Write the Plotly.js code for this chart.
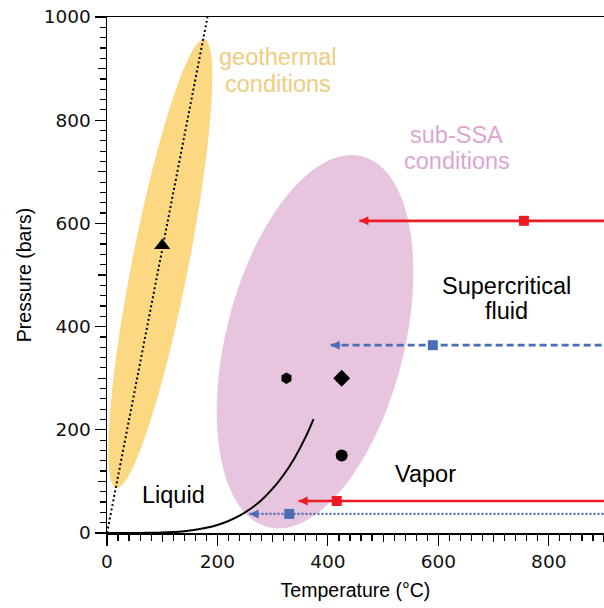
<!DOCTYPE html>
<html>
<head>
<meta charset="utf-8">
<script src="https://cdn.plot.ly/plotly-3.0.1.min.js"></script>
<style>html,body{margin:0;padding:0;background:#fff;}#chart{width:604px;height:608px;}</style>
</head>
<body>
<div id="chart"></div>
<script>
// ---- Data ----
// Water liquid-vapor saturation curve (T in °C, P in bars), ending at the critical point
const satT = [0, 20, 40, 60, 80, 100, 120, 140, 160, 180, 200, 220, 240, 260, 280, 300, 320, 340, 360, 374];
const satP = [0.006, 0.023, 0.074, 0.199, 0.474, 1.014, 1.985, 3.614, 6.18, 10.03, 15.55, 23.2, 33.47, 46.92, 64.17, 85.88, 112.9, 146.0, 186.7, 220.6];

// Geothermal gradient (dotted line)
const geoLineT = [0, 182];
const geoLineP = [0, 1000];

// Black symbols
const triangleT = [100];  const triangleP = [557];
const hexagonT  = [325];  const hexagonP  = [300];
const diamondT  = [425];  const diamondP  = [300];
const circleT   = [425];  const circleP   = [150];

// Horizontal arrows: pressure level, arrow tip, square marker, start (right edge)
const arrowP      = [605, 364, 62, 37];
const arrowTipT   = [457, 405, 347, 258];
const arrowSquareT= [755, 590, 416, 330];
const arrowStartT = [900, 900, 900, 900];

// Region ellipses (center, half x-extent, half y-extent, y-offset of rightmost point)
const geoEllipse = {cx: 96.5, cy: 522, hx: 94.2, hy: 434.7, ry: 362.4};
const ssaEllipse = {cx: 376.7, cy: 370.7, hx: 178, hy: 361.8, ry: 135};

// Axis ranges
const xRange = [0, 900];
const yRange = [0, 1000];

// ---- Styles ----
const RED = '#ED1C24';
const BLUE = '#4B6DB8';
const arrowStyles = [
  {color: RED,  dash: 'solid',   width: 2.7},
  {color: BLUE, dash: '7px,4px', width: 2.8},
  {color: RED,  dash: 'solid',   width: 2.7},
  {color: BLUE, dash: '2px,2px', width: 2.2}
];
const TXT = 'Liberation Sans, Arial, sans-serif';
const NUM = 'DejaVu Sans, sans-serif';

function ellipsePath(e) {
  const k = Math.sqrt(e.hy * e.hy - e.ry * e.ry);
  let d = '';
  const n = 180;
  for (let i = 0; i <= n; i++) {
    const t = 2 * Math.PI * i / n;
    const x = e.cx + e.hx * Math.cos(t);
    const y = e.cy + e.ry * Math.cos(t) + k * Math.sin(t);
    d += (i === 0 ? 'M' : 'L') + x.toFixed(3) + ',' + y.toFixed(3);
  }
  return d + 'Z';
}

const traces = [];

// saturation curve
traces.push({x: satT, y: satP, mode: 'lines', line: {color: '#000', width: 2, shape: 'spline'}, hoverinfo: 'skip'});
// geothermal line
traces.push({x: geoLineT, y: geoLineP, mode: 'lines', line: {color: '#000', width: 2, dash: '2px,2.6px'}, hoverinfo: 'skip'});

// arrows (lines + squares)
for (let i = 0; i < arrowP.length; i++) {
  const s = arrowStyles[i];
  traces.push({
    x: [arrowTipT[i], arrowStartT[i]],
    y: [arrowP[i], arrowP[i]],
    mode: 'lines',
    line: {color: s.color, width: s.width, dash: s.dash},
    hoverinfo: 'skip', cliponaxis: false
  });
  traces.push({
    x: [arrowSquareT[i]], y: [arrowP[i]],
    mode: 'markers',
    marker: {symbol: 'square', color: s.color, size: 10, opacity: 1, line: {width: 0}},
    hoverinfo: 'skip'
  });
}

// black symbols
traces.push({x: triangleT, y: triangleP, mode: 'markers', marker: {symbol: 'triangle-up', size: 14, color: '#000'}, hoverinfo: 'skip'});
traces.push({x: hexagonT, y: hexagonP, mode: 'markers', marker: {symbol: 'hexagon', size: 11.5, color: '#000'}, hoverinfo: 'skip'});
traces.push({x: diamondT, y: diamondP, mode: 'markers', marker: {symbol: 'diamond', size: 13, color: '#000'}, hoverinfo: 'skip'});
traces.push({x: circleT, y: circleP, mode: 'markers', marker: {symbol: 'circle', size: 12, color: '#000'}, hoverinfo: 'skip'});

// dummy trace for the overlay (mid-length tick) axes
traces.push({x: [xRange[0]], y: [yRange[0]], xaxis: 'x2', yaxis: 'y2', mode: 'markers', marker: {opacity: 0}, hoverinfo: 'skip'});

const annotations = [];
// arrow heads
for (let i = 0; i < arrowP.length; i++) {
  annotations.push({
    x: arrowTipT[i], y: arrowP[i], ax: arrowTipT[i] + 20, ay: arrowP[i],
    xref: 'x', yref: 'y', axref: 'x', ayref: 'y', text: '',
    showarrow: true, arrowhead: 2, arrowsize: 0.9, arrowwidth: 2,
    arrowcolor: arrowStyles[i].color, standoff: 0
  });
}
function label(text, x, y, color) {
  annotations.push({x: x, y: y, xref: 'x', yref: 'y', text: text, showarrow: false,
    xanchor: 'center', yanchor: 'middle', font: {family: TXT, size: 23.5, color: color}});
}
const GEO_TXT = '#F0CC7E';
const SSA_TXT = '#DDA6D0';
label('geothermal', 310, 923, GEO_TXT);
label('conditions', 310, 871, GEO_TXT);
label('sub-SSA', 633, 771, SSA_TXT);
label('conditions', 633, 721, SSA_TXT);
label('Supercritical', 724, 479, '#000');
label('fluid', 724, 430, '#000');
label('Vapor', 576, 114, '#000');
label('Liquid', 121, 73, '#000');

const layout = {
  width: 604, height: 608,
  margin: {l: 107, r: 0, t: 17, b: 75, pad: 0},
  paper_bgcolor: '#fff', plot_bgcolor: '#fff',
  showlegend: false,
  xaxis: {
    range: xRange, showgrid: false, zeroline: false,
    showline: true, linecolor: '#000', linewidth: 1.5, mirror: true,
    ticks: 'outside', ticklen: 11, tickwidth: 1.2, tickcolor: '#000', dtick: 200, tick0: 0,
    minor: {ticks: 'outside', dtick: 20, tick0: 0, ticklen: 6, tickwidth: 1.2, tickcolor: '#000', showgrid: false},
    tickfont: {family: NUM, size: 18.5, color: '#111'},
    title: {text: 'Temperature (°C)', font: {family: TXT, size: 19.5, color: '#000'}, standoff: 12},
    fixedrange: true
  },
  yaxis: {
    range: yRange, showgrid: false, zeroline: false,
    showline: true, linecolor: '#000', linewidth: 1.5, mirror: false,
    ticks: 'outside', ticklen: 11, tickwidth: 1.2, tickcolor: '#000', dtick: 200, tick0: 0,
    minor: {ticks: 'outside', dtick: 20, tick0: 0, ticklen: 6, tickwidth: 1.2, tickcolor: '#000', showgrid: false},
    tickfont: {family: NUM, size: 18.5, color: '#111'},
    title: {text: 'Pressure (bars)', font: {family: TXT, size: 19.5, color: '#000'}, standoff: 7},
    fixedrange: true
  },
  xaxis2: {
    range: xRange, overlaying: 'x', anchor: 'y', side: 'bottom',
    showgrid: false, zeroline: false, showline: false, showticklabels: false,
    ticks: 'outside', ticklen: 8, tickwidth: 1.2, tickcolor: '#000', dtick: 100, tick0: 0, fixedrange: true
  },
  yaxis2: {
    range: yRange, overlaying: 'y', anchor: 'x', side: 'left',
    showgrid: false, zeroline: false, showline: false, showticklabels: false,
    ticks: 'outside', ticklen: 8, tickwidth: 1.2, tickcolor: '#000', dtick: 100, tick0: 0, fixedrange: true
  },
  shapes: [
    {type: 'path', xref: 'x', yref: 'y', path: ellipsePath(geoEllipse), fillcolor: '#FDD882', line: {width: 0}, layer: 'below'},
    {type: 'path', xref: 'x', yref: 'y', path: ellipsePath(ssaEllipse), fillcolor: '#E8C5DE', line: {width: 0}, layer: 'below'}
  ],
  annotations: annotations
};

Plotly.newPlot('chart', traces, layout, {displayModeBar: false, staticPlot: true});
</script>
</body>
</html>
